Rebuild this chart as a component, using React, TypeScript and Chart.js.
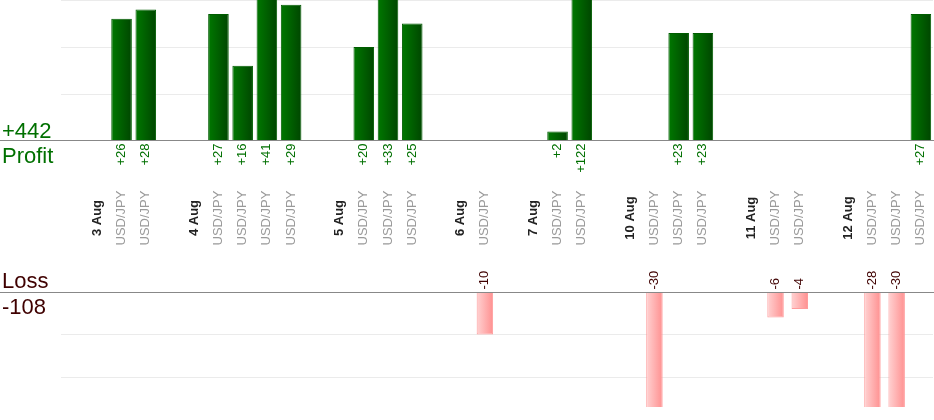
import { useEffect, useRef } from "react"
import { Chart, registerables } from "chart.js"

Chart.register(...registerables)

// one slot per trade, a spacer slot and a date slot before each day
const PAIR = "USD/JPY"
const categories = [
  "", "3 Aug", PAIR, PAIR,
  "", "4 Aug", PAIR, PAIR, PAIR, PAIR,
  "", "5 Aug", PAIR, PAIR, PAIR,
  "", "6 Aug", PAIR,
  "", "7 Aug", PAIR, PAIR,
  "", "10 Aug", PAIR, PAIR, PAIR,
  "", "11 Aug", PAIR, PAIR,
  "", "12 Aug", PAIR, PAIR, PAIR,
]
const profit = [
  null, null, 26, 28,
  null, null, 27, 16, 41, 29,
  null, null, 20, 33, 25,
  null, null, null,
  null, null, 2, 122,
  null, null, null, 23, 23,
  null, null, null, null,
  null, null, null, null, 27,
]
const loss = [
  null, null, null, null,
  null, null, null, null, null, null,
  null, null, null, null, null,
  null, null, -10,
  null, null, null, null,
  null, null, -30, null, null,
  null, null, -6, -4,
  null, null, -28, -30, null,
]

// visible axis ranges of the two panels
const PROFIT_MAX = 30
const LOSS_MIN = -27
const GRID_STEP = 10

const WIDTH = 934
const HEIGHT = 420
const PLOT_LEFT = 61
const PLOT_RIGHT = 933
const PLOT_BOTTOM = 407
const PROFIT_ZERO_Y = 141
const LOSS_ZERO_Y = 292
const LABEL_MID_Y = 218

const FONT = "'Liberation Sans', Arial, Helvetica, sans-serif"
const GREEN = "#007000"
const DARK_RED = "#3f0000"

const sum = (arr: (number | null)[]) => arr.reduce<number>((a, b) => a + (b ?? 0), 0)

function barGradient(c: any, from: string, to: string, pct: number) {
  const xs = c.chart.scales.x
  if (c.type !== "data" || !xs) return from
  const cx = xs.getPixelForValue(c.dataIndex)
  const half = ((xs.width / categories.length) * pct) / 2
  if (!isFinite(cx) || !isFinite(half)) return from
  const g = c.chart.ctx.createLinearGradient(cx - half, 0, cx + half, 0)
  g.addColorStop(0, from)
  g.addColorStop(1, to)
  return g
}

const labelsPlugin = {
  id: "plLabels",
  afterDatasetsDraw(chart: any) {
    const { ctx } = chart
    const xs = chart.scales.x
    const p0 = Math.floor(chart.scales.yProfit.getPixelForValue(0)) + 0.5
    const l0 = Math.floor(chart.scales.yLoss.getPixelForValue(0)) + 0.5

    ctx.save()
    // zero lines across the whole width
    ctx.strokeStyle = "#888888"
    ctx.lineWidth = 1
    ctx.beginPath()
    ctx.moveTo(0, p0)
    ctx.lineTo(chart.width, p0)
    ctx.moveTo(0, l0)
    ctx.lineTo(chart.width, l0)
    ctx.stroke()

    // totals on the left
    ctx.font = `22px ${FONT}`
    ctx.textAlign = "left"
    ctx.textBaseline = "alphabetic"
    ctx.fillStyle = GREEN
    ctx.fillText("+" + sum(profit), 2, 138)
    ctx.fillText("Profit", 2, 163)
    ctx.fillStyle = DARK_RED
    ctx.fillText("Loss", 2, 288)
    ctx.fillText(String(sum(loss)), 2, 314)

    const rotated = (text: string, x: number, y: number, align: CanvasTextAlign) => {
      ctx.save()
      ctx.translate(x, y)
      ctx.rotate(-Math.PI / 2)
      ctx.textAlign = align
      ctx.textBaseline = "middle"
      ctx.fillText(text, 0, 0)
      ctx.restore()
    }

    categories.forEach((label, i) => {
      const x = xs.getPixelForValue(i)
      if (label) {
        const isDate = label !== PAIR
        ctx.font = `${isDate ? "bold " : ""}13px ${FONT}`
        ctx.fillStyle = isDate ? "#222222" : "#9a9a9a"
        rotated(label, x, LABEL_MID_Y, "center")
      }
      ctx.font = `13px ${FONT}`
      const p = profit[i]
      if (p != null) {
        ctx.fillStyle = GREEN
        rotated("+" + p, x, p0 + 3, "right")
      }
      const l = loss[i]
      if (l != null) {
        ctx.fillStyle = DARK_RED
        rotated(String(l), x, l0 - 3, "left")
      }
    })
    ctx.restore()
  },
}

export default function App() {
  const chartRef = useRef<HTMLCanvasElement>(null)

  useEffect(() => {
    if (!chartRef.current) return

    // both panels share one chart area; each axis is stretched so its zero sits on its own line
    const areaH = PLOT_BOTTOM
    const profitMin = (-PROFIT_MAX * (areaH - PROFIT_ZERO_Y)) / PROFIT_ZERO_Y
    const lossMax = (-LOSS_MIN * LOSS_ZERO_Y) / (areaH - LOSS_ZERO_Y)

    const hiddenAxis = {
      type: "linear" as const,
      position: "left" as const,
      ticks: { display: false },
      border: { display: false },
      grid: { color: "#ebebeb", drawTicks: false },
      afterFit: (s: any) => {
        s.width = 0
      },
    }

    const chart = new Chart(chartRef.current, {
      type: "bar",
      data: {
        labels: categories,
        datasets: [
          {
            label: "Profit",
            data: profit,
            yAxisID: "yProfit",
            grouped: false,
            categoryPercentage: 1,
            barPercentage: 0.85,
            backgroundColor: (c: any) => barGradient(c, "#007800", "#004600", 0.85),
            borderColor: "#005c00",
            borderWidth: 1,
            clip: 0,
          },
          {
            label: "Loss",
            data: loss,
            yAxisID: "yLoss",
            grouped: false,
            categoryPercentage: 1,
            barPercentage: 0.68,
            backgroundColor: (c: any) => barGradient(c, "#ffd2d2", "#ff9090", 0.68),
            borderColor: "#ff9c9c",
            borderWidth: 1,
            clip: 0,
          },
        ] as any,
      },
      options: {
        animation: false,
        responsive: true,
        maintainAspectRatio: false,
        events: [],
        layout: {
          padding: { left: PLOT_LEFT, right: WIDTH - PLOT_RIGHT, top: 0, bottom: HEIGHT - PLOT_BOTTOM },
        },
        plugins: {
          legend: { display: false },
          tooltip: { enabled: false },
        },
        scales: {
          x: { display: false },
          yProfit: {
            ...hiddenAxis,
            min: profitMin,
            max: PROFIT_MAX,
            afterBuildTicks: (s: any) => {
              const t = []
              for (let v = GRID_STEP; v <= PROFIT_MAX; v += GRID_STEP) t.push({ value: v })
              s.ticks = t
            },
          },
          yLoss: {
            ...hiddenAxis,
            min: LOSS_MIN,
            max: lossMax,
            afterBuildTicks: (s: any) => {
              const t = []
              for (let v = -GRID_STEP; v > LOSS_MIN; v -= GRID_STEP) t.push({ value: v })
              s.ticks = t
            },
          },
        } as any,
      },
      plugins: [labelsPlugin],
    })

    return () => {
      chart.destroy()
    }
  }, [])

  return (
    <div style={{ position: "fixed", left: 0, top: 0, width: WIDTH, height: HEIGHT, background: "#fff" }}>
      <canvas ref={chartRef} />
    </div>
  )
}
